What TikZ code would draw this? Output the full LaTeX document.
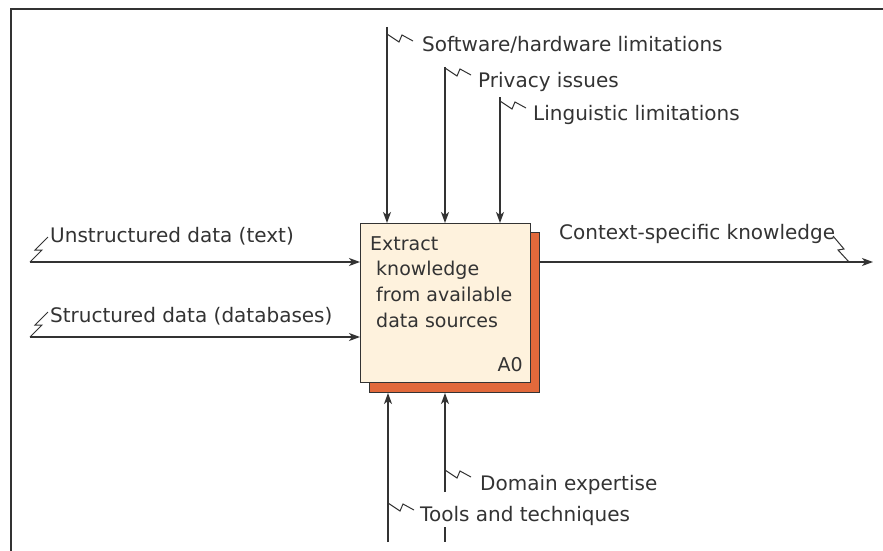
\documentclass[tikz,border=0pt]{standalone}
\usepackage{fontspec}
\setmainfont{DejaVu Sans}
\usetikzlibrary{arrows.meta}
\definecolor{linec}{HTML}{333333}
\definecolor{boxfill}{HTML}{FEF2DD}
\definecolor{shadowc}{HTML}{E2693B}
\tikzset{
  conn/.style={draw=linec, line width=1.3pt},
  arr/.style={conn, -{Stealth[length=11pt,width=8pt,inset=3pt]}},
  squig/.style={draw=linec, line width=1pt, line join=miter},
  lbl/.style={anchor=base west, inner sep=0pt, font=\fontsize{20}{24}\selectfont, text=linec},
  boxtxt/.style={inner sep=0pt, font=\fontsize{19}{25.7}\selectfont, text=linec}
}
\begin{document}
\begin{tikzpicture}[x=1pt,y=-1pt]
\useasboundingbox (0,0) rectangle (883,551);
\fill[white] (0,0) rectangle (883,551);
\draw[draw=linec, line width=1.5pt] (883,9) -- (11,9) -- (11,551);
% box and shadow
\node[draw=linec, line width=1pt, fill=shadowc, minimum width=170pt, minimum height=160pt, inner sep=0pt, anchor=north west] (shadow) at (369,232) {};
\node[draw=linec, line width=1.3pt, fill=boxfill, minimum width=170pt, minimum height=159pt, inner sep=0pt, anchor=north west] (box) at (360,223) {};
\node[boxtxt, anchor=north west, align=left] (boxtext) at (370,236) {Extract\\\hspace*{6pt}knowledge\\\hspace*{6pt}from available\\\hspace*{6pt}data sources};
\node[boxtxt, anchor=base east] (code) at (523,371) {A0};
% labels
\node[lbl] (sw) at (422,52) {Software/hardware limitations};
\node[lbl] (pi) at (478,87) {Privacy issues};
\node[lbl] (li) at (533,120) {Linguistic limitations};
\node[lbl] (ud) at (50,242) {Unstructured data (text)};
\node[lbl] (sd) at (50,322) {Structured data (databases)};
\node[lbl] (ck) at (559,239) {Context-specific knowledge};
\node[lbl] (de) at (480,490) {Domain expertise};
\node[lbl] (tt) at (420,521) {Tools and techniques};
% controls (top)
\coordinate (t1) at (387,27);
\coordinate (t2) at (445,67);
\coordinate (t3) at (500,97);
\draw[arr] (t1) -- (t1 |- box.north);
\draw[arr] (t2) -- (t2 |- box.north);
\draw[arr] (t3) -- (t3 |- box.north);
% mechanisms (bottom)
\coordinate (b1) at (388,542);
\coordinate (b2) at (445,492);
\coordinate (b2s) at (445,527);
\coordinate (b2e) at (445,542);
\draw[arr] (b1) -- (b1 |- shadow.south);
\draw[arr] (b2) -- (b2 |- shadow.south);
\draw[conn] (b2s) -- (b2e);
% inputs
\coordinate (i1) at (30,262);
\coordinate (i2) at (30,337);
\draw[arr] (i1) -- (i1 -| box.west);
\draw[arr] (i2) -- (i2 -| box.west);
% output
\coordinate (o1) at (873,262);
\draw[arr] (o1 -| shadow.east) -- (o1);
% squiggles
\draw[squig] (387,34) -- ++(12,8) -- ++(3,-7) -- ++(11,6);
\draw[squig] (445,68) -- ++(12,8) -- ++(3,-7) -- ++(11,6);
\draw[squig] (500,101) -- ++(12,8) -- ++(3,-7) -- ++(11,6);
\draw[squig] (445,470) -- ++(12,8) -- ++(3,-7) -- ++(11,6);
\draw[squig] (388,503) -- ++(12,8) -- ++(3,-7) -- ++(11,6);
\draw[squig] (i1) -- ++(12,-12) -- ++(-7,0) -- ++(13,-13);
\draw[squig] (i2) -- ++(12,-12) -- ++(-7,0) -- ++(13,-13);
\draw[squig] (833,236) -- ++(11,13) -- ++(-6,1) -- ++(11,12);
\end{tikzpicture}
\end{document}
